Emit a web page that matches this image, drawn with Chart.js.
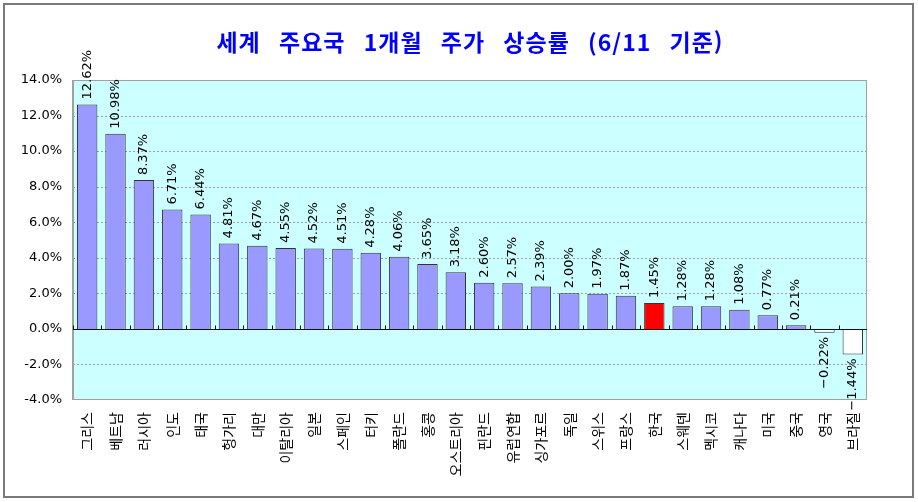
<!DOCTYPE html>
<html lang="ko">
<head>
<meta charset="utf-8">
<title>세계 주요국 1개월 주가 상승률</title>
<script src="https://cdn.jsdelivr.net/npm/chart.js@4.4.1/dist/chart.umd.min.js"></script>
<style>
  html, body { margin: 0; padding: 0; background: #fff; }
  #wrap { width: 918px; height: 502px; position: relative; }
</style>
</head>
<body>
<div id="wrap"><canvas id="chart"></canvas></div>
<script>
// ── DATA ─────────────────────────────────────────────────────────────────────
const TITLE = '세계 주요국 1개월 주가 상승률 (6/11 기준)';

const countries = [
  '그리스','베트남','러시아','인도','태국','헝가리','대만','이탈리아','일본','스페인',
  '터키','폴란드','홍콩','오스트리아','핀란드','유럽연합','싱가포르','독일','스위스','프랑스',
  '한국','스웨덴','멕시코','캐나다','미국','중국','영국','브라질',
];

const returns = [
  12.62, 10.98, 8.37, 6.71, 6.44, 4.81, 4.67, 4.55, 4.52, 4.51,
  4.28, 4.06, 3.65, 3.18, 2.60, 2.57, 2.39, 2.00, 1.97, 1.87,
  1.45, 1.28, 1.28, 1.08, 0.77, 0.21, -0.22, -1.44,
];

const highlight = '한국';

const Y_MIN = -4, Y_MAX = 14, Y_STEP = 2;

// ── COLORS ───────────────────────────────────────────────────────────────────
const C = {
  bar: '#9999ff', barHi: '#ff0000', barNeg: '#ffffff', barEdge: '#333333',
  plot: '#ccffff', grid: '#a0a0a0', frame: '#a0a0a0', title: '#0000ff',
};

const barFill = countries.map((c, i) =>
  c === highlight ? C.barHi : (returns[i] < 0 ? C.barNeg : C.bar));

// ── PLUGINS ──────────────────────────────────────────────────────────────────
// white page, outer box, cyan plot area, dashed grid, title
const backdrop = {
  id: 'backdrop',
  beforeDraw(chart) {
    const { ctx, chartArea: a } = chart;
    ctx.save();
    ctx.fillStyle = '#fff';
    ctx.fillRect(0, 0, chart.width, chart.height);
    ctx.strokeStyle = '#7a7a7a';
    ctx.lineWidth = 2;
    ctx.strokeRect(4, 4, 909, 493);
    ctx.fillStyle = C.plot;
    ctx.fillRect(a.left, a.top, a.right - a.left, a.bottom - a.top);
    ctx.restore();
  },
  beforeDatasetsDraw(chart) {
    const { ctx, chartArea: a, scales: { y } } = chart;
    ctx.save();
    ctx.strokeStyle = C.grid;
    ctx.lineWidth = 1;
    ctx.setLineDash([2, 2]);
    ctx.beginPath();
    y.ticks.forEach(t => {
      if (t.value === Y_MIN || t.value === Y_MAX || t.value === 0) return;
      const py = Math.round(y.getPixelForValue(t.value)) + 0.5;
      ctx.moveTo(a.left, py); ctx.lineTo(a.right, py);
    });
    ctx.stroke();
    ctx.restore();
  },
  afterDraw(chart) {
    const { ctx, chartArea: a } = chart;
    ctx.save();
    ctx.fillStyle = C.title;
    ctx.font = 'bold 23px "Noto Sans CJK KR"';
    ctx.textAlign = 'center';
    ctx.textBaseline = 'middle';
    if ('letterSpacing' in ctx) ctx.letterSpacing = '1px';
    if ('wordSpacing' in ctx) ctx.wordSpacing = '12px';
    ctx.fillText(TITLE, (a.left + a.right) / 2, 42);
    ctx.restore();
  },
};

// plot frame, zero line with small ticks, rotated value labels
const overlay = {
  id: 'overlay',
  afterDatasetsDraw(chart) {
    const { ctx, chartArea: a, scales: { x, y } } = chart;
    ctx.save();

    ctx.strokeStyle = C.frame;
    ctx.lineWidth = 1;
    ctx.strokeRect(a.left + 0.5, a.top + 0.5, a.right - a.left - 1, a.bottom - a.top - 1);
    ctx.lineWidth = 2;
    ctx.beginPath();
    ctx.moveTo(a.left, a.top); ctx.lineTo(a.left, a.bottom);
    ctx.stroke();

    const y0 = Math.round(y.getPixelForValue(0)) + 0.5;
    const step = (a.right - a.left) / countries.length;
    ctx.strokeStyle = '#111';
    ctx.lineWidth = 1;
    ctx.beginPath();
    ctx.moveTo(a.left, y0); ctx.lineTo(a.right, y0);
    for (let i = 0; i < countries.length; i++) {
      const bx = Math.round(x.getPixelForValue(i) - step / 2) + 0.5;
      ctx.moveTo(bx, y0); ctx.lineTo(bx, y0 - 4);
    }
    ctx.stroke();

    ctx.fillStyle = '#000';
    ctx.font = '13px "DejaVu Sans"';
    ctx.textBaseline = 'middle';
    chart.getDatasetMeta(0).data.forEach((bar, i) => {
      const v = returns[i];
      ctx.save();
      ctx.translate(bar.x, v >= 0 ? bar.y - 5 : bar.y + 4);
      ctx.rotate(-Math.PI / 2);
      ctx.textAlign = v >= 0 ? 'left' : 'right';
      ctx.fillText(v.toFixed(2).replace('-', '\u2212') + '%', 0, 0);
      ctx.restore();
    });
    ctx.restore();
  },
};

// ── CHART ────────────────────────────────────────────────────────────────────
Chart.defaults.animation = false;
Chart.defaults.color = '#000';

new Chart(document.getElementById('chart'), {
  type: 'bar',
  data: {
    labels: countries,
    datasets: [{
      data: returns,
      backgroundColor: barFill,
      borderColor: C.barEdge,
      borderWidth: 1,
      borderSkipped: 'start',
      categoryPercentage: 1,
      barPercentage: 0.72,
    }],
  },
  options: {
    responsive: true,
    maintainAspectRatio: false,
    devicePixelRatio: 1,
    layout: { padding: { top: 80, right: 51, left: 0, bottom: 0 } },
    plugins: {
      legend: { display: false },
      title: { display: false },
      tooltip: { enabled: false },
    },
    scales: {
      x: {
        offset: true,
        grid: { display: false, drawTicks: false },
        border: { display: false },
        ticks: {
          autoSkip: false,
          maxRotation: 90, minRotation: 90,
          padding: 12,
          font: { family: '"Noto Sans CJK KR"', size: 14 },
          color: '#000',
        },
        afterFit(s) { s.height = 102; },
      },
      y: {
        min: Y_MIN, max: Y_MAX,
        grid: { display: false, drawTicks: false },
        border: { display: false },
        ticks: {
          stepSize: Y_STEP,
          padding: 11,
          font: { family: '"DejaVu Sans"', size: 13 },
          color: '#000',
          callback: v => v.toFixed(1) + '%',
        },
        afterFit(s) { s.width = 73; },
      },
    },
  },
  plugins: [backdrop, overlay],
});
</script>
</body>
</html>
